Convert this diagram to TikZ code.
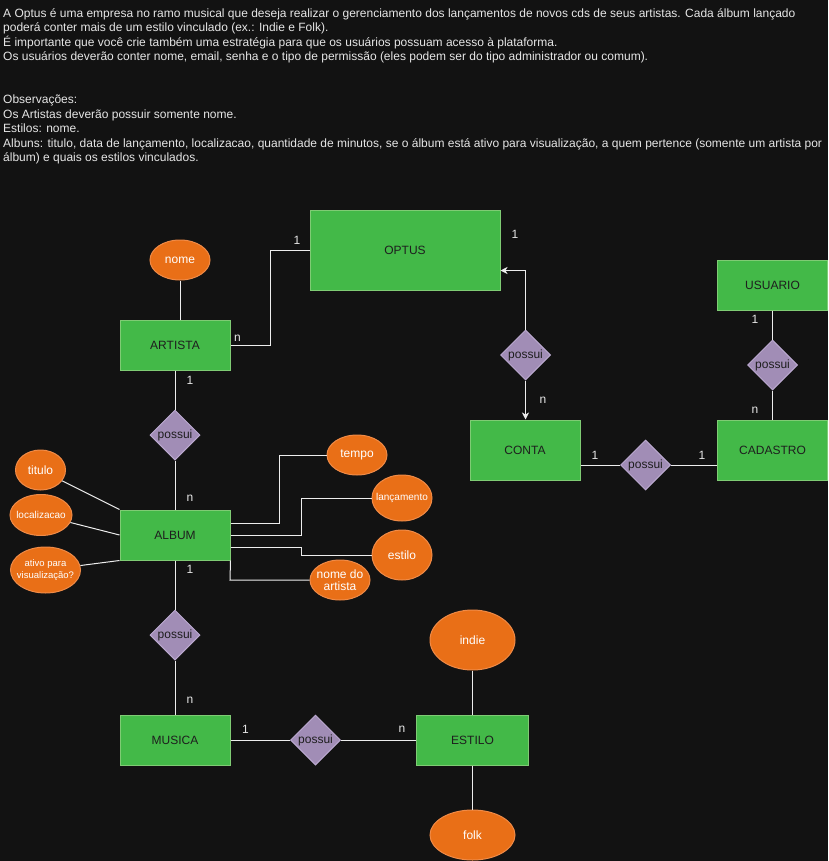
\documentclass[tikz,border=0pt]{standalone}
\usepackage{fontspec}
\setmainfont{Liberation Sans}
\usetikzlibrary{shapes.geometric,arrows.meta}
\definecolor{bg}{HTML}{121212}
\definecolor{entfill}{HTML}{43B948}
\definecolor{entline}{HTML}{7FCB74}
\definecolor{attrfill}{HTML}{E96F17}
\definecolor{attrline}{HTML}{F08B47}
\definecolor{relfill}{HTML}{A18DB6}
\definecolor{relline}{HTML}{BBA9D0}
\definecolor{darktext}{HTML}{1E1E1E}
\definecolor{lighttext}{HTML}{E6E6E6}
\definecolor{wire}{HTML}{EDEDED}
\newcommand\ctr[1]{\makebox[0pt]{#1}}
\tikzset{
  ent/.style={rectangle, draw=entline, fill=entfill, line width=1pt, inner sep=0pt,
    text=darktext, font=\fontsize{12}{14}\selectfont},
  attr/.style={ellipse, draw=attrline, fill=attrfill, line width=1pt, inner sep=0pt,
    text=white, align=center},
  rel/.style={diamond, draw=relline, fill=relfill, line width=1pt, inner sep=0pt,
    minimum width=50pt, minimum height=50pt, text=darktext,
    font=\fontsize{12}{14}\selectfont},
  card/.style={text=lighttext, font=\fontsize{12}{14}\selectfont, inner sep=0pt},
  note/.style={text=lighttext, font=\fontsize{12}{14}\selectfont, inner sep=0pt, anchor=base west},
  wire/.style={draw=wire, line width=1pt},
  tip/.style={-{Stealth[length=7pt,width=7pt,inset=2pt]}}
}
\begin{document}
\begin{tikzpicture}[x=1pt,y=-1pt]
\fill[bg] (0,0) rectangle (828,861);
\useasboundingbox (0,0) rectangle (828,861);

% statement of the problem
\node[note] (t1) at (3,18) {A Optus é uma empresa no ramo musical que deseja realizar o gerenciamento dos lançamentos de novos cds de seus artistas. Cada álbum lançado};
\node[note] (t2) at (3,32) {poderá conter mais de um estilo vinculado (ex.: Indie e Folk).};
\node[note] (t3) at (3,46.5) {É importante que você crie também uma estratégia para que os usuários possuam acesso à plataforma.};
\node[note] (t4) at (3,61) {Os usuários deverão conter nome, email, senha e o tipo de permissão (eles podem ser do tipo administrador ou comum).};
\node[note] (t5) at (3,104) {Observações:};
\node[note] (t6) at (3,118.5) {Os Artistas deverão possuir somente nome.};
\node[note] (t7) at (3,133) {Estilos: nome.};
\node[note] (t8) at (3,147.5) {Albuns: titulo, data de lançamento, localizacao, quantidade de minutos, se o álbum está ativo para visualização, a quem pertence (somente um artista por};
\node[note] (t9) at (3,162) {álbum) e quais os estilos vinculados.};

% entities
\node[ent, minimum width=190pt, minimum height=80pt] (optus) at (405,250) {OPTUS};
\node[ent, minimum width=110pt, minimum height=50pt] (artista) at (175,345) {ARTISTA};
\node[ent, minimum width=110pt, minimum height=50pt] (album) at (175,535) {ALBUM};
\node[ent, minimum width=110pt, minimum height=50pt] (musica) at (175,740) {MUSICA};
\node[ent, minimum width=112pt, minimum height=50pt] (estilo) at (472.5,740) {ESTILO};
\node[ent, minimum width=110pt, minimum height=60pt] (conta) at (525,450) {CONTA};
\node[ent, minimum width=110pt, minimum height=60pt] (cadastro) at (772.5,450) {CADASTRO};
\node[ent, minimum width=110pt, minimum height=50pt] (usuario) at (772.5,285) {USUARIO};

% relationships
\node[rel] (r1) at (175,435) {\ctr{possui}};
\node[rel] (r2) at (175,635) {\ctr{possui}};
\node[rel] (r3) at (315.5,740) {\ctr{possui}};
\node[rel] (r4) at (525.5,355) {\ctr{possui}};
\node[rel] (r5) at (645.5,465) {\ctr{possui}};
\node[rel] (r6) at (772.5,365) {\ctr{possui}};

% attributes
\node[attr, minimum width=60pt, minimum height=40pt, font=\fontsize{12}{14}\selectfont] (nome) at (180,260) {\ctr{nome}};
\node[attr, minimum width=50pt, minimum height=40pt, font=\fontsize{12}{14}\selectfont] (titulo) at (40.5,470) {\ctr{titulo}};
\node[attr, minimum width=62pt, minimum height=41pt, font=\fontsize{10}{12}\selectfont] (local) at (41,515) {\ctr{localizacao}};
\node[attr, minimum width=70pt, minimum height=46pt, font=\fontsize{9.5}{11.5}\selectfont] (ativo) at (45.5,570) {\ctr{\shortstack{ativo para\\visualização?}}};
\node[attr, minimum width=60pt, minimum height=40pt, font=\fontsize{12}{14}\selectfont] (tempo) at (357,455) {\ctr{tempo}};
\node[attr, minimum width=60pt, minimum height=46pt, font=\fontsize{10}{12}\selectfont] (lanc) at (402,498) {\ctr{lançamento}};
\node[attr, minimum width=60pt, minimum height=50pt, font=\fontsize{12}{14}\selectfont] (estattr) at (402,555) {\ctr{estilo}};
\node[attr, minimum width=60pt, minimum height=40pt, font=\fontsize{12}{13.5}\selectfont] (nomeart) at (340,580) {\ctr{\shortstack{nome do\\artista}}};
\node[attr, minimum width=85pt, minimum height=60pt, font=\fontsize{12}{14}\selectfont] (indie) at (472.5,640) {\ctr{indie}};
\node[attr, minimum width=85pt, minimum height=50pt, font=\fontsize{12}{14}\selectfont] (folk) at (472.5,835) {\ctr{folk}};

% connectors
\draw[wire] (nome.south) -- (nome.south |- artista.north);
\draw[wire] (artista.east) -- (270.5,345) -- (270.5,250) -- (optus.west);
\draw[wire] (artista) -- (r1);
\draw[wire] (r1) -- (album);
\draw[wire] (album) -- (r2);
\draw[wire] (r2) -- (musica);
\draw[wire] (musica) -- (r3);
\draw[wire] (r3) -- (estilo);
\draw[wire] (indie) -- (estilo);
\draw[wire] (estilo) -- (folk);
\draw[wire, tip] (r4.north) -- (525.5,270.5) -- (optus.east |- 0,270.5);
\draw[wire, tip] (r4.south) -- (conta.north -| r4.south);
\draw[wire] (conta.east |- r5) -- (r5);
\draw[wire] (r5) -- (cadastro.west |- r5);
\draw[wire] (usuario) -- (r6);
\draw[wire] (r6) -- (cadastro);

% album attributes
\draw[wire] (titulo) -- (album.north west);
\draw[wire] (local) -- (album.west);
\draw[wire] (ativo) -- (album.south west);
\draw[wire] (album.east |- 0,523) -- (279,523) -- (279,455) -- (tempo.west);
\draw[wire] (album.east |- 0,535) -- (301.5,535) -- (301.5,498) -- (lanc.west);
\draw[wire] (album.east |- 0,547) -- (301.5,547) -- (301.5,555) -- (estattr.west);
\draw[wire] (album.south east) -- (230,580) -- (nomeart.west);

% cardinalities
\node[card] (c1) at (297,240) {1};
\node[card] (c2) at (237.5,338) {n};
\node[card] (c3) at (515,234) {1};
\node[card] (c4) at (543,400) {n};
\node[card] (c5) at (595,455) {1};
\node[card] (c6) at (702,455) {1};
\node[card] (c7) at (755,319) {1};
\node[card] (c8) at (755,410) {n};
\node[card] (c9) at (190,380) {1};
\node[card] (c10) at (190,498) {n};
\node[card] (c11) at (190,569) {1};
\node[card] (c12) at (190,700) {n};
\node[card] (c13) at (245.5,729) {1};
\node[card] (c14) at (402,729) {n};
\end{tikzpicture}
\end{document}
